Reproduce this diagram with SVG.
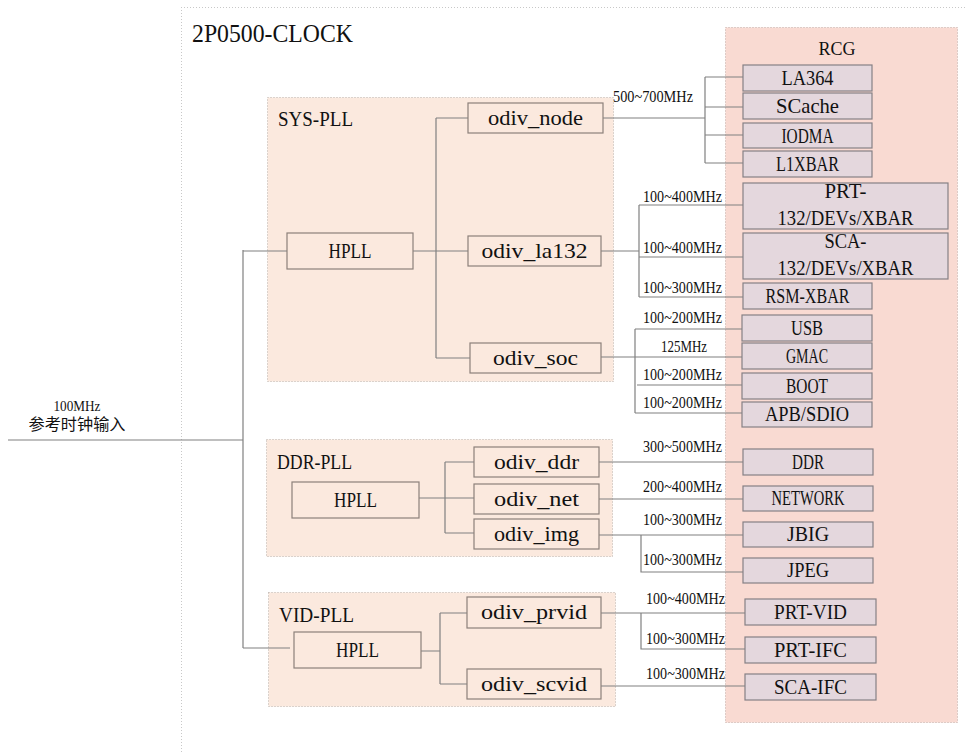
<svg xmlns="http://www.w3.org/2000/svg" width="966" height="753" viewBox="0 0 966 753">
<style>
text{font-family:"Liberation Serif","Noto Sans CJK SC",serif;fill:#111}
.frame{fill:none;stroke:#c8c8c8;stroke-width:1;stroke-dasharray:1 2}
.region{fill:#fbe9de;stroke:#b8b0aa;stroke-width:1;stroke-dasharray:1 2}
.rcg{fill:#f9dad2;stroke:#c0aaa5;stroke-width:1;stroke-dasharray:1 2}
.ob{fill:none;stroke:#8c807a;stroke-width:1.2}
.rb{fill:#e4d7dd;stroke:#858085;stroke-width:1.2}
.bt{font-size:21px;text-anchor:middle}
.rt{font-size:20.5px}
.ft{font-size:16px}
.conn{fill:none;stroke:#808080;stroke-width:1.2}
</style>
<rect width="966" height="753" fill="#ffffff"/>
<g id="frame">
<path class="frame" d="M181,7.5 H966 M181.5,7 V753"/>
<text x="192" y="42" font-size="26" textLength="161" lengthAdjust="spacingAndGlyphs">2P0500-CLOCK</text>
</g>
<g id="sys-pll">
<rect class="region" x="267.5" y="97.5" width="346" height="284"/>
<text class="rt" x="278" y="126" textLength="75" lengthAdjust="spacingAndGlyphs">SYS-PLL</text>
</g>
<g id="ddr-pll">
<rect class="region" x="266.5" y="439.5" width="346" height="117"/>
<text class="rt" x="277" y="469" textLength="75" lengthAdjust="spacingAndGlyphs">DDR-PLL</text>
</g>
<g id="vid-pll">
<rect class="region" x="268.5" y="592.5" width="347" height="114"/>
<text class="rt" x="279" y="622" textLength="75" lengthAdjust="spacingAndGlyphs">VID-PLL</text>
</g>
<g id="rcg">
<rect class="rcg" x="725.5" y="27.5" width="232" height="695"/>
<text x="837" y="55" font-size="18" text-anchor="middle">RCG</text>
</g>
<g id="input">
<text x="77" y="411" font-size="14.5" text-anchor="middle" textLength="47" lengthAdjust="spacingAndGlyphs">100MHz</text>
<text x="77" y="430" font-size="16" text-anchor="middle" textLength="97" lengthAdjust="spacingAndGlyphs">参考时钟输入</text>
</g>
<g id="connectors">
<path class="conn" d="M8,440 H243 M243,250 V648 M243,251 H287 M243,648 H290"/>
<path class="conn" d="M413,251 H468 M436,118 V358 M436,118 H468 M436,358 H470"/>
<path class="conn" d="M603,118 H705 M705,77 V163 M705,77 H743 M705,107 H743 M705,135 H743 M705,163 H743"/>
<path class="conn" d="M601,251 H639 M639,205 V297 M639,205 H743 M639,257 H743 M639,297 H743"/>
<path class="conn" d="M601,357 H742 M635,329 V413 M635,329 H742 M637,385 H742 M635,413 H742"/>
<path class="conn" d="M419,498 H474 M445,462 V533 M445,462 H474 M445,533 H474"/>
<path class="conn" d="M599,462 H743 M599,499 H743 M599,535 H743 M641,535 V572 H743"/>
<path class="conn" d="M421,651 H440 M440,613 V684 M440,613 H467 M440,684 H467"/>
<path class="conn" d="M601,613 H745 M641,613 V649 H745 M601,686 H745"/>
</g>
<g id="labels">
<text class="ft" x="613" y="102" textLength="80" lengthAdjust="spacingAndGlyphs">500~700MHz</text>
<text class="ft" x="643" y="202" textLength="79" lengthAdjust="spacingAndGlyphs">100~400MHz</text>
<text class="ft" x="643" y="253" textLength="79" lengthAdjust="spacingAndGlyphs">100~400MHz</text>
<text class="ft" x="643" y="293" textLength="79" lengthAdjust="spacingAndGlyphs">100~300MHz</text>
<text class="ft" x="643" y="323" textLength="79" lengthAdjust="spacingAndGlyphs">100~200MHz</text>
<text class="ft" x="684" y="352" text-anchor="middle" textLength="46" lengthAdjust="spacingAndGlyphs">125MHz</text>
<text class="ft" x="643" y="380" textLength="79" lengthAdjust="spacingAndGlyphs">100~200MHz</text>
<text class="ft" x="643" y="408" textLength="79" lengthAdjust="spacingAndGlyphs">100~200MHz</text>
<text class="ft" x="643" y="452" textLength="79" lengthAdjust="spacingAndGlyphs">300~500MHz</text>
<text class="ft" x="643" y="492" textLength="79" lengthAdjust="spacingAndGlyphs">200~400MHz</text>
<text class="ft" x="643" y="525" textLength="79" lengthAdjust="spacingAndGlyphs">100~300MHz</text>
<text class="ft" x="643" y="565" textLength="79" lengthAdjust="spacingAndGlyphs">100~300MHz</text>
<text class="ft" x="646" y="604" textLength="79" lengthAdjust="spacingAndGlyphs">100~400MHz</text>
<text class="ft" x="646" y="644" textLength="79" lengthAdjust="spacingAndGlyphs">100~300MHz</text>
<text class="ft" x="646" y="679" textLength="79" lengthAdjust="spacingAndGlyphs">100~300MHz</text>
</g>
<g id="sys-hpll"><rect class="ob" x="287" y="233" width="126" height="36"/><text class="bt" x="350" y="258" textLength="43" lengthAdjust="spacingAndGlyphs">HPLL</text></g>
<g id="odiv_node"><rect class="ob" x="468" y="103" width="135" height="30"/><text class="bt" x="535.5" y="125" textLength="95" lengthAdjust="spacingAndGlyphs">odiv_node</text></g>
<g id="odiv_la132"><rect class="ob" x="468" y="236" width="133" height="30"/><text class="bt" x="534.5" y="258" textLength="106" lengthAdjust="spacingAndGlyphs">odiv_la132</text></g>
<g id="odiv_soc"><rect class="ob" x="470" y="343" width="131" height="30"/><text class="bt" x="535.5" y="365" textLength="85" lengthAdjust="spacingAndGlyphs">odiv_soc</text></g>
<g id="ddr-hpll"><rect class="ob" x="292" y="482" width="127" height="36"/><text class="bt" x="355.5" y="507" textLength="43" lengthAdjust="spacingAndGlyphs">HPLL</text></g>
<g id="odiv_ddr"><rect class="ob" x="474" y="447" width="125" height="30"/><text class="bt" x="536.5" y="469" textLength="85" lengthAdjust="spacingAndGlyphs">odiv_ddr</text></g>
<g id="odiv_net"><rect class="ob" x="474" y="484" width="125" height="30"/><text class="bt" x="536.5" y="506" textLength="85" lengthAdjust="spacingAndGlyphs">odiv_net</text></g>
<g id="odiv_img"><rect class="ob" x="474" y="519" width="125" height="30"/><text class="bt" x="536.5" y="541" textLength="85" lengthAdjust="spacingAndGlyphs">odiv_img</text></g>
<g id="vid-hpll"><rect class="ob" x="294" y="632" width="127" height="36"/><text class="bt" x="357.5" y="657" textLength="43" lengthAdjust="spacingAndGlyphs">HPLL</text></g>
<g id="odiv_prvid"><rect class="ob" x="467" y="597" width="134" height="31"/><text class="bt" x="534" y="619" textLength="106" lengthAdjust="spacingAndGlyphs">odiv_prvid</text></g>
<g id="odiv_scvid"><rect class="ob" x="467" y="669" width="134" height="30"/><text class="bt" x="534" y="691" textLength="106" lengthAdjust="spacingAndGlyphs">odiv_scvid</text></g>
<g id="la364"><rect class="rb" x="743" y="65" width="129" height="26"/><text class="bt" x="807.5" y="85" textLength="52" lengthAdjust="spacingAndGlyphs">LA364</text></g>
<g id="scache"><rect class="rb" x="743" y="93" width="129" height="26"/><text class="bt" x="807.5" y="113" textLength="63" lengthAdjust="spacingAndGlyphs">SCache</text></g>
<g id="iodma"><rect class="rb" x="743" y="123" width="129" height="25"/><text class="bt" x="807.5" y="143" textLength="52" lengthAdjust="spacingAndGlyphs">IODMA</text></g>
<g id="l1xbar"><rect class="rb" x="743" y="151" width="129" height="26"/><text class="bt" x="807.5" y="171" textLength="63" lengthAdjust="spacingAndGlyphs">L1XBAR</text></g>
<g id="prt-132"><rect class="rb" x="743" y="183" width="205" height="46"/><text class="bt" x="845.5" y="198" textLength="42" lengthAdjust="spacingAndGlyphs">PRT-</text><text class="bt" x="845.5" y="225" textLength="136" lengthAdjust="spacingAndGlyphs">132/DEVs/XBAR</text></g>
<g id="sca-132"><rect class="rb" x="743" y="233" width="205" height="46"/><text class="bt" x="845.5" y="248" textLength="42" lengthAdjust="spacingAndGlyphs">SCA-</text><text class="bt" x="845.5" y="275" textLength="136" lengthAdjust="spacingAndGlyphs">132/DEVs/XBAR</text></g>
<g id="rsm-xbar"><rect class="rb" x="743" y="283" width="129" height="26"/><text class="bt" x="807.5" y="303" textLength="84" lengthAdjust="spacingAndGlyphs">RSM-XBAR</text></g>
<g id="usb"><rect class="rb" x="742" y="315" width="130" height="26"/><text class="bt" x="807" y="335" textLength="32" lengthAdjust="spacingAndGlyphs">USB</text></g>
<g id="gmac"><rect class="rb" x="742" y="343" width="130" height="26"/><text class="bt" x="807" y="363" textLength="42" lengthAdjust="spacingAndGlyphs">GMAC</text></g>
<g id="boot"><rect class="rb" x="742" y="373" width="130" height="26"/><text class="bt" x="807" y="393" textLength="42" lengthAdjust="spacingAndGlyphs">BOOT</text></g>
<g id="apb-sdio"><rect class="rb" x="742" y="402" width="130" height="25"/><text class="bt" x="807" y="421" textLength="84" lengthAdjust="spacingAndGlyphs">APB/SDIO</text></g>
<g id="ddr"><rect class="rb" x="743" y="449" width="130" height="26"/><text class="bt" x="808" y="469" textLength="32" lengthAdjust="spacingAndGlyphs">DDR</text></g>
<g id="network"><rect class="rb" x="743" y="486" width="130" height="25"/><text class="bt" x="808" y="505" textLength="73" lengthAdjust="spacingAndGlyphs">NETWORK</text></g>
<g id="jbig"><rect class="rb" x="743" y="522" width="130" height="25"/><text class="bt" x="808" y="541" textLength="42" lengthAdjust="spacingAndGlyphs">JBIG</text></g>
<g id="jpeg"><rect class="rb" x="743" y="558" width="130" height="25"/><text class="bt" x="808" y="577" textLength="42" lengthAdjust="spacingAndGlyphs">JPEG</text></g>
<g id="prt-vid"><rect class="rb" x="745" y="599" width="131" height="26"/><text class="bt" x="810.5" y="619" textLength="73" lengthAdjust="spacingAndGlyphs">PRT-VID</text></g>
<g id="prt-ifc"><rect class="rb" x="745" y="637" width="131" height="26"/><text class="bt" x="810.5" y="657" textLength="73" lengthAdjust="spacingAndGlyphs">PRT-IFC</text></g>
<g id="sca-ifc"><rect class="rb" x="745" y="674" width="131" height="26"/><text class="bt" x="810.5" y="694" textLength="73" lengthAdjust="spacingAndGlyphs">SCA-IFC</text></g>
</svg>
